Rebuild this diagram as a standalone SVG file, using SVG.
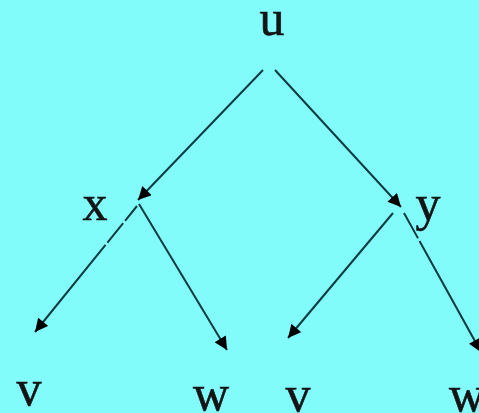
<svg xmlns="http://www.w3.org/2000/svg" width="479" height="413" viewBox="0 0 479 413">
<style>
.lbl{font-family:"Liberation Serif","Times New Roman",serif;font-size:50px;fill:#141414;stroke:#141414;stroke-width:0.6;text-anchor:middle}
.edge{stroke:#0d3b40;stroke-width:2;fill:none;marker-end:url(#ah)}
</style>
<defs>
<marker id="ah" viewBox="0 0 10 10" refX="10" refY="5" markerWidth="7" markerHeight="6.5" markerUnits="strokeWidth" orient="auto">
<path d="M0,0 L10,5 L0,10 z" fill="#000"/>
</marker>
</defs>
<rect width="479" height="413" fill="#82FBFB"/>
<g id="connectors">
<line class="edge" x1="263" y1="70" x2="138" y2="200"/>
<line class="edge" x1="275" y1="70" x2="401" y2="207"/>
<line class="edge" x1="137" y1="206" x2="35" y2="332" stroke-dasharray="19 3 25 3 200"/>
<line class="edge" x1="139" y1="204" x2="227" y2="350"/>
<line class="edge" x1="393" y1="213" x2="288" y2="338"/>
<line class="edge" x1="404" y1="213" x2="481" y2="352" stroke-dasharray="29 3 200"/>
</g>
<g id="node-u"><text class="lbl" x="272" y="35">u</text></g>
<g id="node-x"><text class="lbl" x="95" y="220">x</text></g>
<g id="node-y"><text class="lbl" x="428" y="220">y</text></g>
<g id="node-v1"><text class="lbl" x="29" y="405">v</text></g>
<g id="node-w1"><text class="lbl" x="211" y="410">w</text></g>
<g id="node-v2"><text class="lbl" x="298" y="411">v</text></g>
<g id="node-w2"><text class="lbl" x="467" y="411">w</text></g>
</svg>
